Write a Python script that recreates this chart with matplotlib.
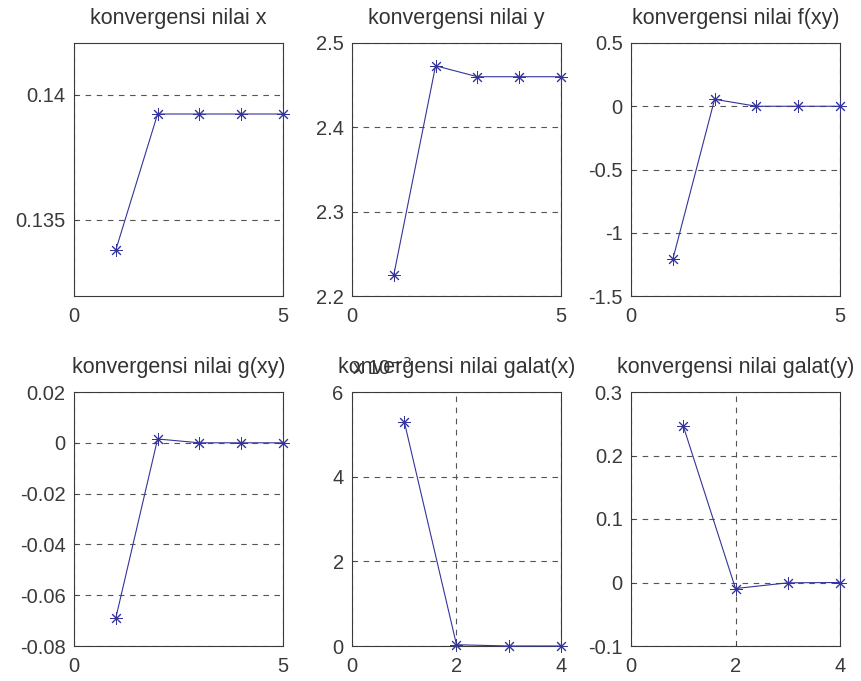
import matplotlib
matplotlib.use('Agg')
import matplotlib.pyplot as plt

plt.rcParams['font.family'] = ['Liberation Sans', 'DejaVu Sans']

# iterations
iter_main = [1, 2, 3, 4, 5]
iter_err = [1, 2, 3, 4]

# values per iteration
nilai_x = [0.1338, 0.13924, 0.13924, 0.13924, 0.13924]
nilai_y = [2.225, 2.473, 2.460, 2.460, 2.460]
nilai_f = [-1.21, 0.055, 0.0, 0.0, 0.0]
nilai_g = [-0.069, 0.0015, 0.0, 0.0, 0.0]
galat_x = [5.3e-3, 0.03e-3, 0.0, 0.0]
galat_y = [0.2465, -0.0095, -0.0005, 0.0]

titles = ['konvergensi nilai x', 'konvergensi nilai y', 'konvergensi nilai f(xy)',
          'konvergensi nilai g(xy)', 'konvergensi nilai galat(x)', 'konvergensi nilai galat(y)']

line_c = '#34349a'
fs_tick = 14.5
fs_title = 15.5

fig = plt.figure(figsize=(8.62, 6.81), dpi=100)
lefts = [74 / 862, 352 / 862, 631 / 862]
w = 209 / 862
rows = [(1 - 296 / 681, 253 / 681), (1 - 646 / 681, 254 / 681)]

specs = [
    (iter_main, nilai_x, (0, 5), [0, 5], (0.13196, 0.14208), [0.135, 0.14], ['0.135', '0.14']),
    (iter_main, nilai_y, (0, 5), [0, 5], (2.2, 2.5), [2.2, 2.3, 2.4, 2.5], ['2.2', '2.3', '2.4', '2.5']),
    (iter_main, nilai_f, (0, 5), [0, 5], (-1.5, 0.5), [-1.5, -1, -0.5, 0, 0.5], ['-1.5', '-1', '-0.5', '0', '0.5']),
    (iter_main, nilai_g, (0, 5), [0, 5], (-0.08, 0.02), [-0.08, -0.06, -0.04, -0.02, 0, 0.02],
     ['-0.08', '-0.06', '-0.04', '-0.02', '0', '0.02']),
    (iter_err, [v * 1e3 for v in galat_x], (0, 4), [0, 2, 4], (0, 6), [0, 2, 4, 6], ['0', '2', '4', '6']),
    (iter_err, galat_y, (0, 4), [0, 2, 4], (-0.1, 0.3), [-0.1, 0, 0.1, 0.2, 0.3], ['-0.1', '0', '0.1', '0.2', '0.3']),
]

for i, (xs, ys, xl, xt, yl, yt, ytl) in enumerate(specs):
    b, h = rows[i // 3]
    ax = fig.add_axes([lefts[i % 3], b, w, h])
    ax.plot(xs, ys, '-', color=line_c, lw=0.8, marker=(8, 2, 0), ms=9, mew=0.7,
            clip_on=False, zorder=3)
    ax.set_xlim(*xl)
    ax.set_ylim(*yl)
    ax.set_xticks(xt)
    ax.set_yticks(yt)
    ax.set_yticklabels(ytl)
    ax.tick_params(direction='in', length=3, width=0.5, labelsize=fs_tick, colors='#3a3a3a')
    ax.tick_params(axis='x', pad=8)
    ax.tick_params(axis='y', pad=6)
    ax.grid(True, ls=(0, (5, 5)), color='#555555', lw=0.8)
    for s in ax.spines.values():
        s.set_color('#3a3a3a')
        s.set_linewidth(0.8)
    ax.set_title(titles[i], fontsize=fs_title, color='#333333', pad=14)
    if i == 4:
        ax.text(0.0, 1.05, r'x 10$^{-3}$', transform=ax.transAxes, fontsize=fs_tick,
                color='#3a3a3a', ha='left', va='bottom')

fig.savefig('out.png', dpi=100)
